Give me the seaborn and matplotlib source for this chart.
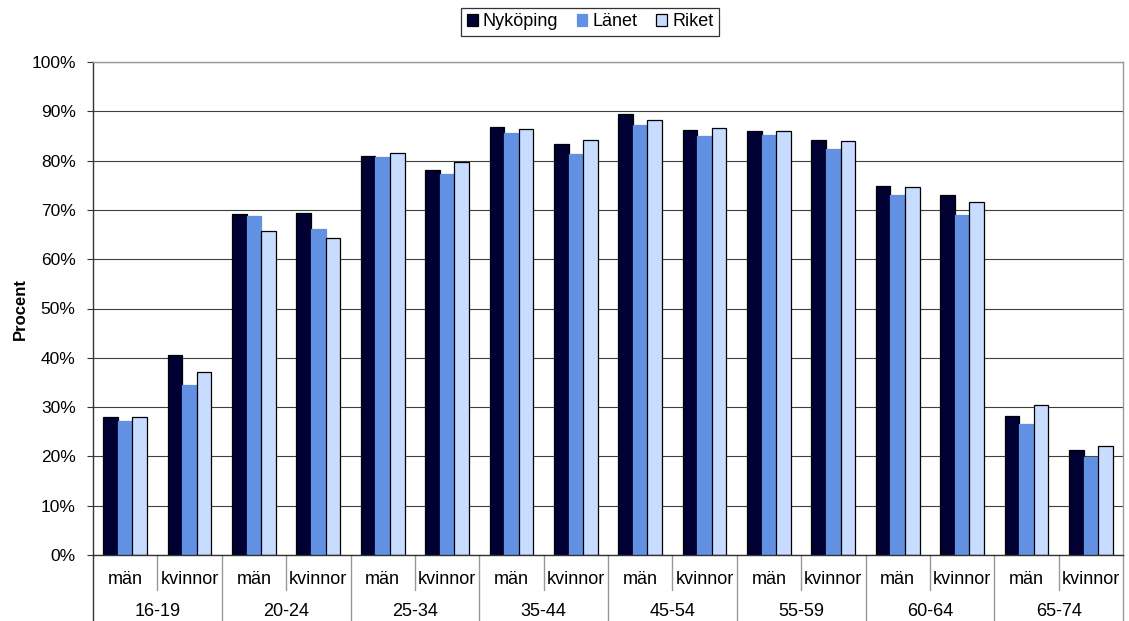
import pandas as pd
import seaborn as sns
import matplotlib.pyplot as plt
from matplotlib.patches import Patch
from matplotlib.transforms import blended_transform_factory

# age groups, sexes and the three regions compared
ages = ['16-19', '20-24', '25-34', '35-44', '45-54', '55-59', '60-64', '65-74']
sexes = ['män', 'kvinnor']
regions = ['Nyköping', 'Länet', 'Riket']

# share in percent, order: (age, sex) pairs as above
nykoping = [28.0, 40.5, 69.2, 69.4, 80.9, 78.0, 86.8, 83.4,
            89.4, 86.3, 86.0, 84.2, 74.8, 73.0, 28.1, 21.3]
lanet = [27.2, 34.4, 68.8, 66.1, 80.7, 77.2, 85.6, 81.4,
         87.3, 84.9, 85.1, 82.4, 73.0, 68.9, 26.6, 19.8]
riket = [28.0, 37.1, 65.7, 64.3, 81.6, 79.7, 86.4, 84.1,
         88.3, 86.6, 86.1, 84.0, 74.6, 71.6, 30.5, 22.2]

colors = ['#000033', '#6290E3', '#C8DCFF']

cats = [f'{a}|{s}' for a in ages for s in sexes]
rows = []
for name, vals in zip(regions, [nykoping, lanet, riket]):
    for c, v in zip(cats, vals):
        rows.append({'kat': c, 'region': name, 'procent': v})
df = pd.DataFrame(rows)

sns.set_style('white')
plt.rcParams['font.family'] = ['Liberation Sans', 'DejaVu Sans']
plt.rcParams['text.color'] = 'black'
plt.rcParams['axes.labelcolor'] = 'black'
plt.rcParams['ytick.color'] = 'black'

fig = plt.figure(figsize=(11.29, 6.21), dpi=100)
ax = fig.add_axes([93 / 1129, 1 - 555 / 621, 1030 / 1129, 493 / 621])

sns.barplot(data=df, x='kat', y='procent', hue='region', order=cats,
            hue_order=regions, palette=colors, saturation=1, width=0.68, gap=0,
            edgecolor='black', linewidth=0.9, legend=False, ax=ax)

# Länet bars have no black outline
for bar in ax.containers[1]:
    bar.set_edgecolor(colors[1])

ax.set_ylim(0, 100)
ax.set_xlim(-0.5, len(cats) - 0.5)
ax.set_yticks(range(0, 101, 10))
ax.set_yticklabels([f'{t}%' for t in range(0, 101, 10)], fontsize=12.5)
ax.tick_params(axis='y', length=4.5, width=0.8, color='#333333', pad=8,
               direction='out', left=True, labelcolor='black')
ax.yaxis.grid(True, color='#404040', linewidth=0.8)
ax.set_axisbelow(True)
ax.set_ylabel('Procent', fontsize=12, fontweight='bold', labelpad=2)
ax.set_xlabel('')
ax.set_xticks([])

for side in ['top', 'right']:
    ax.spines[side].set_color('#999999')
    ax.spines[side].set_linewidth(1.0)
for side in ['left', 'bottom']:
    ax.spines[side].set_color('#333333')
    ax.spines[side].set_linewidth(1.0)

# two-level category axis below the plot
trans = blended_transform_factory(ax.transData, ax.transAxes)
bottom = -(621 - 555) / 493
mid = -(590 - 555) / 493
for i in range(len(ages) + 1):
    x = i * 2 - 0.5
    col = '#333333' if i == 0 else '#999999'
    ax.plot([x, x], [0, bottom], transform=trans, color=col, lw=1.0, clip_on=False)
for i in range(len(ages)):
    x = i * 2 + 0.5
    ax.plot([x, x], [0, mid], transform=trans, color='#999999', lw=1.0, clip_on=False)
    ax.text(i * 2 + 0.5, -(612 - 555) / 493, ages[i], transform=trans,
            ha='center', va='center', fontsize=13)
for j, c in enumerate(cats):
    ax.text(j, -(579 - 555) / 493, c.split('|')[1], transform=trans,
            ha='center', va='center', fontsize=13)

handles = [Patch(facecolor=colors[0], edgecolor='black', linewidth=0.9),
           Patch(facecolor=colors[1], edgecolor=colors[1], linewidth=0.9),
           Patch(facecolor=colors[2], edgecolor='black', linewidth=0.9)]
leg = fig.legend(handles, regions, loc='center', bbox_to_anchor=(590 / 1129, 1 - 22 / 621),
                 ncol=3, fontsize=13, frameon=True, fancybox=False,
                 handlelength=0.6, handleheight=0.6, handletextpad=0.3,
                 columnspacing=1.0, borderpad=0.3, borderaxespad=0)
leg.get_frame().set_edgecolor('black')
leg.get_frame().set_linewidth(0.9)

fig.savefig('out.png', dpi=100)
